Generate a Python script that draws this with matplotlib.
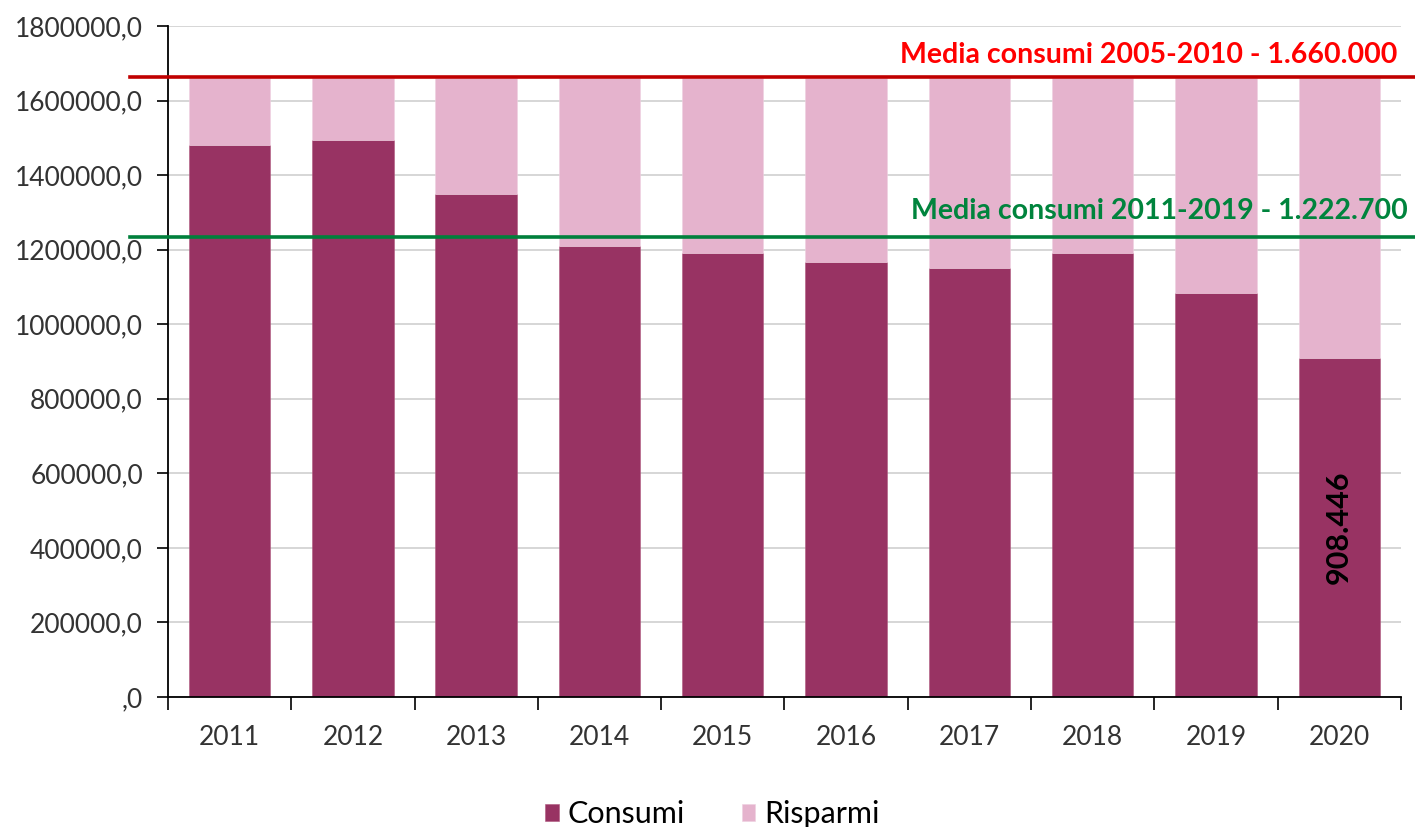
import matplotlib
matplotlib.use("Agg")
from matplotlib import pyplot as plt
from matplotlib.ticker import FuncFormatter

years = ["2011", "2012", "2013", "2014", "2015", "2016", "2017", "2018", "2019", "2020"]
consumi = [1480000, 1495000, 1349500, 1209000, 1190000, 1166000, 1151000, 1190000, 1083000, 908446]
totale = 1660000
risparmi = [totale - c for c in consumi]

media_2005_2010 = 1662000
media_2011_2019 = 1234000  # line as drawn in the picture
label_rosso = "Media consumi 2005-2010 - 1.660.000"
label_verde = "Media consumi 2011-2019 - 1.222.700"
label_2020 = "908.446"

COL_CONS = "#983363"
COL_RISP = "#e5b3cd"

plt.rcParams['font.family'] = ['Lato', 'DejaVu Sans']


def fmt_y(v, pos):
    if v == 0:
        return ",0"
    return f"{int(v)},0"


def plot_consumi():
    fig = plt.figure(figsize=(14.15, 8.27), dpi=100)
    ax = fig.add_axes([0.1187, 0.1572, 0.8713, 0.8114])

    x = list(range(len(years)))
    ax.bar(x, consumi, width=0.66, color=COL_CONS, edgecolor="#b0587f", linewidth=0.4,
           label="Consumi", zorder=2)
    ax.bar(x, risparmi, width=0.66, bottom=consumi, color=COL_RISP, edgecolor="#efd0e0",
           linewidth=0.4, label="Risparmi", zorder=2)

    ax.set_xlim(-0.5, len(years) - 0.5)
    ax.set_ylim(0, 1800000)
    ax.set_yticks(range(0, 1800001, 200000))
    ax.yaxis.set_major_formatter(FuncFormatter(fmt_y))
    ax.grid(axis="y", color="#d0d0d0", linewidth=1.2, zorder=0)
    ax.set_axisbelow(True)

    # category ticks between bars, labels centred under bars
    ax.set_xticks([i - 0.5 for i in range(len(years) + 1)])
    ax.set_xticklabels([])
    ax.set_xticks(x, minor=True)
    ax.set_xticklabels(years, minor=True)
    ax.tick_params(axis="x", which="major", length=9, width=1.2, direction="out")
    ax.tick_params(axis="x", which="minor", length=0, pad=20, labelsize=19, labelcolor="#333333")
    ax.tick_params(axis="y", length=8, width=1.2, labelsize=19, labelcolor="#333333", pad=10)

    for s in ["top", "right"]:
        ax.spines[s].set_visible(False)
    ax.spines["left"].set_linewidth(1.3)
    ax.spines["bottom"].set_linewidth(1.3)

    # average lines, running past the plot area
    ax.axhline(media_2005_2010, xmin=-0.031, xmax=1.02, color="#c00000", linewidth=2.6,
               clip_on=False, zorder=4)
    ax.axhline(media_2011_2019, xmin=-0.031, xmax=1.02, color="#00803c", linewidth=2.6,
               clip_on=False, zorder=4)
    ax.text(0.9968, 0.956, label_rosso, transform=ax.transAxes, ha="right", va="center",
            color="#ff0000", fontsize=20.5, fontweight="bold")
    ax.text(1.0057, 0.724, label_verde, transform=ax.transAxes, ha="right", va="center",
            color="#00843d", fontsize=20.5, fontweight="bold")

    ax.text(x[-1], consumi[-1] / 2, label_2020, rotation=90, ha="center", va="center",
            fontsize=22, fontweight="bold", color="black", zorder=5)

    fig.legend(loc="lower center", bbox_to_anchor=(0.5035, -0.035), ncol=2, frameon=False,
               fontsize=22, handlelength=0.45, handleheight=0.45, handletextpad=0.3,
               columnspacing=1.85)

    fig.savefig("out.png", dpi=100)


def main():
    plot_consumi()


if __name__ == "__main__":
    main()
